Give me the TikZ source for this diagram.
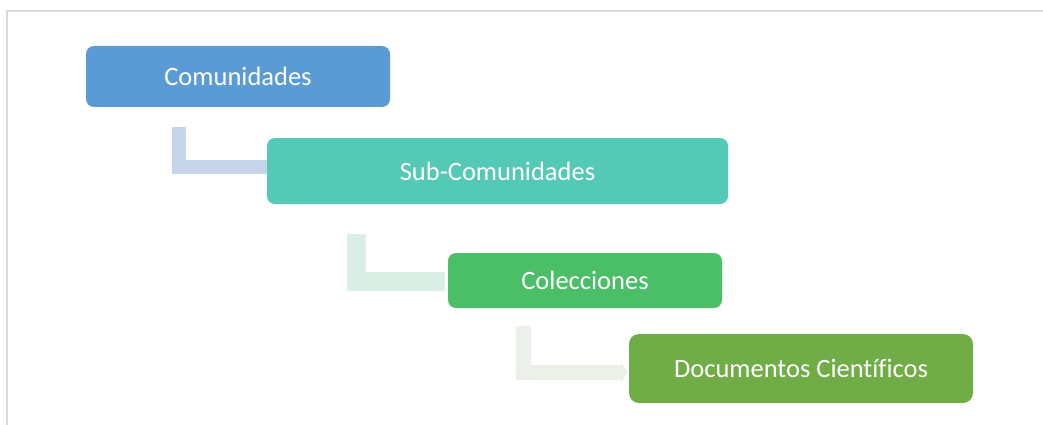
\documentclass[tikz,border=0pt]{standalone}
\usepackage{fontspec}
\setmainfont{Carlito}[Ligatures=NoCommon]
\usetikzlibrary{arrows.meta}
\definecolor{cA}{HTML}{5B9BD5}
\definecolor{cB}{HTML}{54CAB6}
\definecolor{cC}{HTML}{4BBF67}
\definecolor{cD}{HTML}{70AD47}
\definecolor{kA}{HTML}{C5D4EA}
\definecolor{kB}{HTML}{DAEEE6}
\definecolor{kC}{HTML}{EBF0E8}
\definecolor{framecol}{HTML}{DADADA}
\pgfdeclarelayer{background}
\pgfsetlayers{background,main}
\tikzset{
  box/.style={rectangle, rounded corners=8pt, inner sep=0pt, text=white,
    font=\fontsize{26.5pt}{30pt}\selectfont},
  conn/.style={line width=#1, line cap=butt, line join=miter},
}
\begin{document}
\begin{tikzpicture}[x=1pt,y=-1pt]
\useasboundingbox (0,0) rectangle (1043,425);
\draw[framecol, line width=2pt] (7,425) -- (7,11) -- (1045,11);
\node[box, fill=cA, minimum width=304pt, minimum height=61pt] (a) at (238,76.5) {Comunidades};
\node[box, fill=cB, minimum width=461pt, minimum height=66pt] (b) at (497.5,171) {Sub-Comunidades};
\node[box, fill=cC, minimum width=274pt, minimum height=55pt] (c) at (585,280.5) {Colecciones};
\node[box, fill=cD, minimum width=344pt, minimum height=69pt, rounded corners=10pt] (d) at (801,368.5) {Documentos Científicos};
\coordinate (a1) at ([xshift=93pt,yshift=-20pt]a.south west);
\coordinate (b1) at ([xshift=89.5pt,yshift=-30pt]b.south west);
\coordinate (c1) at ([xshift=75.5pt,yshift=-18pt]c.south west);
\begin{pgfonlayer}{background}
\draw[kA, conn=14pt] (a1) |- ([yshift=4.5pt,xshift=2pt]b.west);
\draw[kB, conn=19pt] (b1) |- ([yshift=-1pt,xshift=-3pt]c.west);
\draw[kC, conn=15pt, -{Triangle[length=7pt,width=21pt]}] (c1) |- ([yshift=-4pt,xshift=-1pt]d.west);
\end{pgfonlayer}
\end{tikzpicture}
\end{document}
